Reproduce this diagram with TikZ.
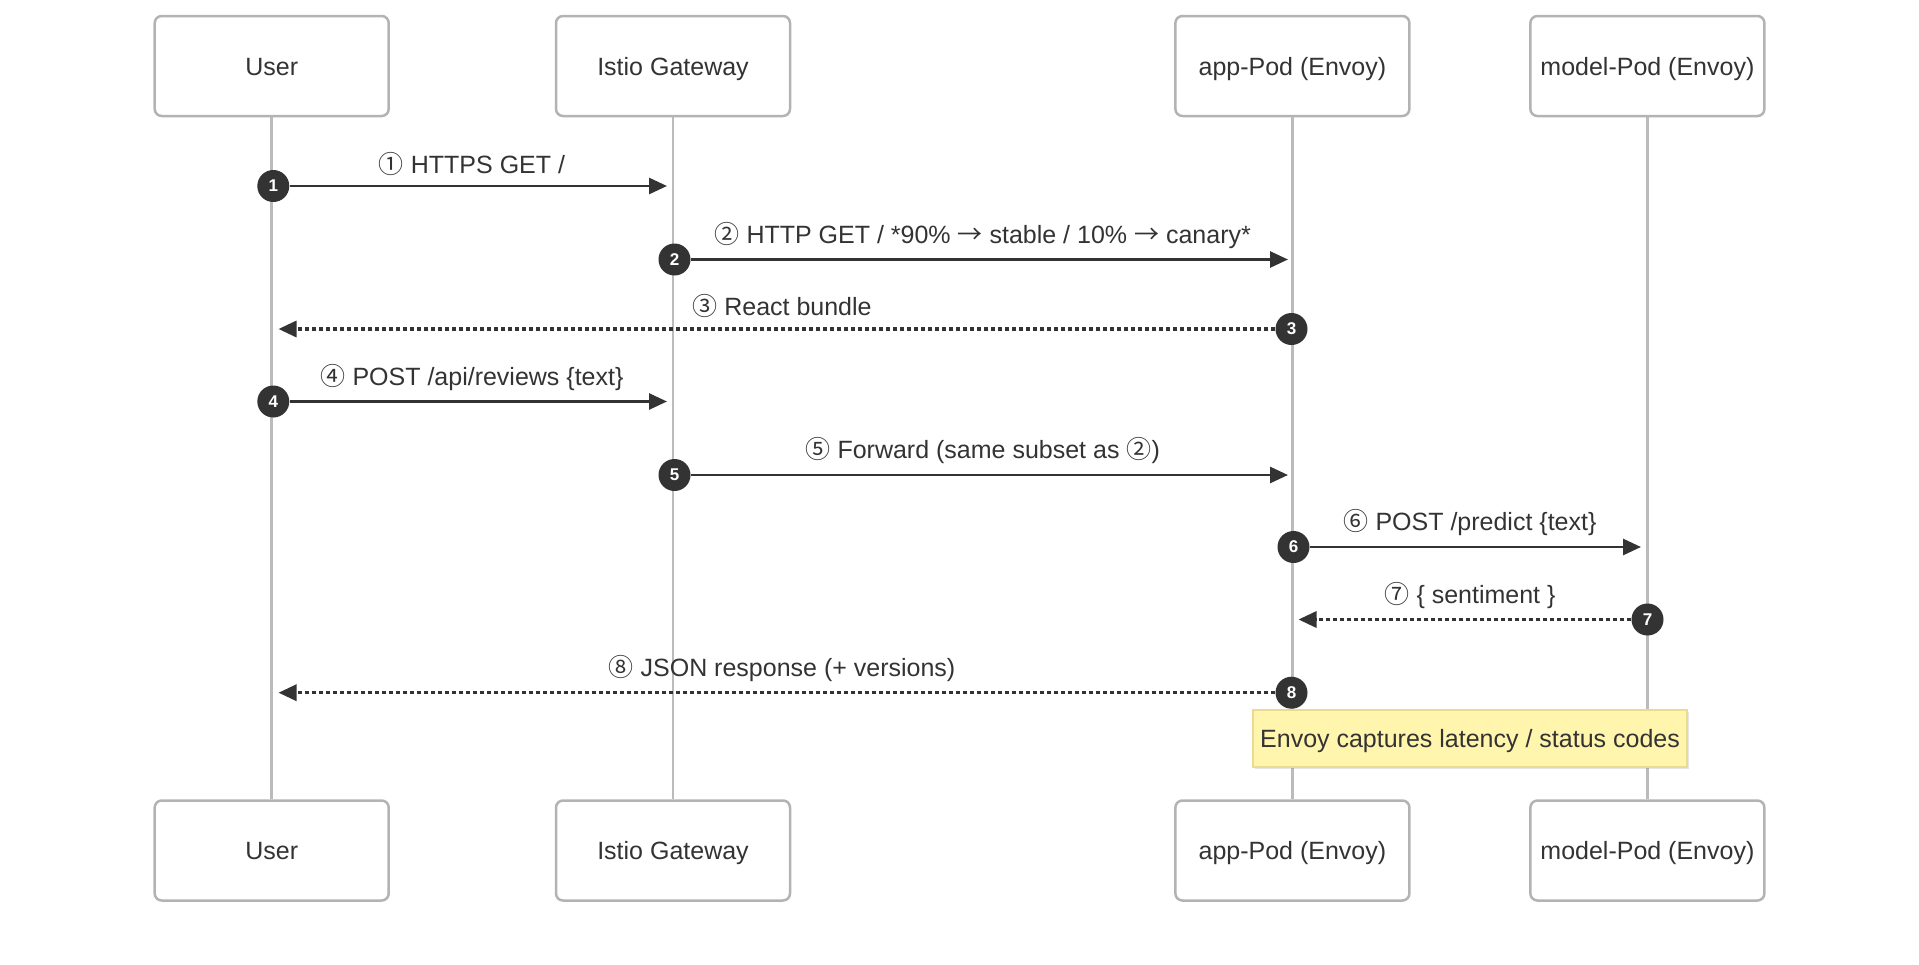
\documentclass[tikz,border=0pt]{standalone}
\usepackage{fontspec}
\setmainfont{Liberation Sans}
\newfontfamily\symf{Noto Sans CJK SC}
\usetikzlibrary{arrows.meta,shadows}
\definecolor{ink}{HTML}{333333}
\definecolor{lifegray}{HTML}{BBBBBB}
\definecolor{boxgray}{HTML}{B3B3B3}
\definecolor{notefill}{HTML}{FFF5AD}
\definecolor{notedraw}{HTML}{EADB8E}
\newcommand{\cn}[1]{{\symf #1}}
\begin{document}
\begin{tikzpicture}[x=1pt,y=-1pt,
  actor/.style={draw=boxgray, line width=2.5pt, rounded corners=7pt, fill=white,
    minimum width=234pt, minimum height=100pt, inner sep=0pt,
    text height=18pt, text depth=0pt,
    font=\fontsize{25}{30}\selectfont, text=ink},
  life/.style={draw=lifegray, line width=2.7pt},
  num/.style={circle, fill=ink, text=white, minimum size=32pt, inner sep=0pt,
    font=\fontsize{17}{17}\selectfont\bfseries},
  msg/.style={draw=ink, line width=2.8pt, -{Triangle[length=18pt,width=16pt]}},
  reply/.style={msg, line width=3.2pt, dash pattern=on 4pt off 3pt},
  lbl/.style={font=\fontsize{25}{30}\selectfont, text=ink, inner sep=0pt},
  notebox/.style={draw=notedraw, line width=2pt, fill=notefill, minimum width=434pt,
    minimum height=57pt, inner sep=0pt, text height=18pt, text depth=0pt,
    font=\fontsize{25}{30}\selectfont, text=ink,
    drop shadow={opacity=0.2, shadow xshift=2pt, shadow yshift=-2pt}}
]
\useasboundingbox (0,0) rectangle (1919,964);
% actors
\node[actor] (uT) at (271.7,66) {User};
\node[actor] (gT) at (673,66) {Istio Gateway};
\node[actor] (aT) at (1292.4,66) {app-Pod (Envoy)};
\node[actor] (mT) at (1647.4,66) {model-Pod (Envoy)};
\node[actor] (uB) at (271.7,850.5) {User};
\node[actor] (gB) at (673,850.5) {Istio Gateway};
\node[actor] (aB) at (1292.4,850.5) {app-Pod (Envoy)};
\node[actor] (mB) at (1647.4,850.5) {model-Pod (Envoy)};
% lifelines
\draw[life] (uT) -- (uB);
\draw[life] (gT) -- (gB);
\draw[life] (aT) -- (aB);
\draw[life] (mT) -- (mB);
% message 1
\node[num] (n1) at (273.3,186) {1};
\coordinate (e1) at (667,186);
\draw[msg] (n1) -- (e1);
\node[lbl] (l1) at (472,164) {\cn{①} HTTPS GET /};
% message 2
\node[num] (n2) at (674.5,259.5) {2};
\coordinate (e2) at (1288,259.5);
\draw[msg] (n2) -- (e2);
\node[lbl] (l2) at (982.7,236) {\cn{②} HTTP GET / *90\% \cn{→} stable / 10\% \cn{→} canary*};
% message 3
\node[num] (n3) at (1291.5,329) {3};
\coordinate (e3) at (278.5,329);
\draw[reply] (n3) -- (e3);
\node[lbl] (l3) at (782,306) {\cn{③} React bundle};
% message 4
\node[num] (n4) at (273.3,401.5) {4};
\coordinate (e4) at (667,401.5);
\draw[msg] (n4) -- (e4);
\node[lbl] (l4) at (472,378) {\cn{④} POST /api/reviews \{text\}};
% message 5
\node[num] (n5) at (674.5,475) {5};
\coordinate (e5) at (1288,475);
\draw[msg] (n5) -- (e5);
\node[lbl] (l5) at (982.7,451) {\cn{⑤} Forward (same subset as \cn{②})};
% message 6
\node[num] (n6) at (1293.5,547) {6};
\coordinate (e6) at (1641,547);
\draw[msg] (n6) -- (e6);
\node[lbl] (l6) at (1470,523) {\cn{⑥} POST /predict \{text\}};
% message 7
\node[num] (n7) at (1647.5,619.5) {7};
\coordinate (e7) at (1298.5,619.5);
\draw[reply] (n7) -- (e7);
\node[lbl] (l7) at (1470,596) {\cn{⑦} \{ sentiment \}};
% message 8
\node[num] (n8) at (1291.5,692.7) {8};
\coordinate (e8) at (278.5,692.7);
\draw[reply] (n8) -- (e8);
\node[lbl] (l8) at (782,669) {\cn{⑧} JSON response (+ versions)};
% note
\node[notebox] (note) at (1470,738) {Envoy captures latency / status codes};
\end{tikzpicture}
\end{document}
